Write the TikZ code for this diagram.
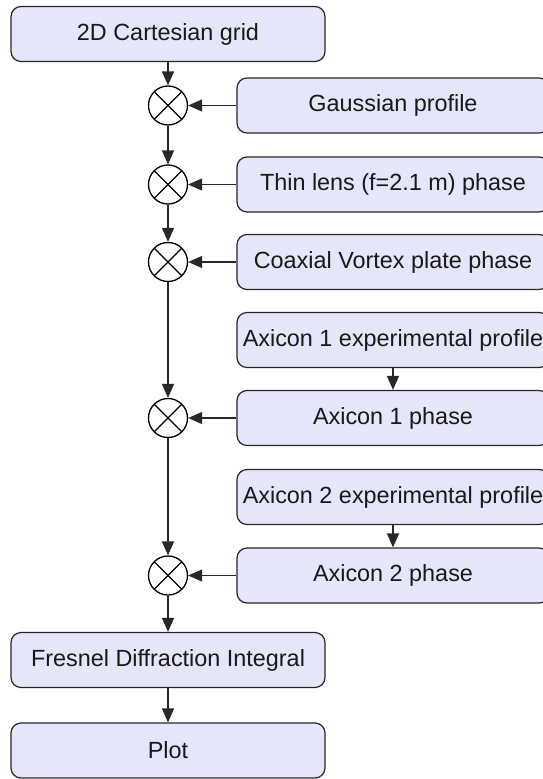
\documentclass[tikz,border=0pt]{standalone}
\usepackage{fontspec}
\setmainfont{Liberation Sans}
\usetikzlibrary{arrows.meta}
\definecolor{boxfill}{RGB}{230,230,250}
\definecolor{boxline}{RGB}{40,40,40}

\begin{document}
\begin{tikzpicture}[x=1pt, y=-1pt,
		block/.style={draw=boxline, line width=1.2pt, fill=boxfill, rounded corners=10pt,
			minimum width=314pt, minimum height=55pt, inner sep=0pt,
			text=black!90, font=\fontsize{23.4}{28}\selectfont},
		side/.style={block, minimum width=312pt},
		mult/.style={circle, draw=black, line width=1.3pt, minimum size=39pt, inner sep=0pt,
			path picture={\draw[line width=1.3pt] (path picture bounding box.north west) -- (path picture bounding box.south east)
				(path picture bounding box.north east) -- (path picture bounding box.south west);}},
		flow/.style={draw=boxline, line width=1.3pt, -{Triangle[length=14pt,width=12pt]}}]
		\useasboundingbox (0,0) rectangle (543,779);
		
		% Main chain
		\node[block] (grid) at (168,34) {2D Cartesian grid};
		\node[mult] (m1) at (168,105.5) {};
		\node[mult] (m2) at (168,184.5) {};
		\node[mult] (m3) at (168,262) {};
		\node[mult] (m4) at (168,418) {};
		\node[mult] (m5) at (168,575.5) {};
		\node[block] (fresnel) at (168,660) {Fresnel Diffraction Integral};
		\node[block] (plot) at (168,750.5) {Plot};
		
		% Phase and amplitude factors
		\node[side] (gauss) at (393,105.5) {Gaussian profile};
		\node[side] (lens) at (393,184.5) {Thin lens (f=2.1 m) phase};
		\node[side] (vortex) at (393,262) {Coaxial Vortex plate phase};
		\node[side] (axexpA) at (393,340) {Axicon 1 experimental profile};
		\node[side] (axA) at (393,418) {Axicon 1 phase};
		\node[side] (axexpB) at (393,497) {Axicon 2 experimental profile};
		\node[side] (axB) at (393,575.5) {Axicon 2 phase};
		
		% Connections
		\draw[flow] (grid) -- (m1);
		\draw[flow] (m1) -- (m2);
		\draw[flow] (m2) -- (m3);
		\draw[flow] (m3) -- (m4);
		\draw[flow] (m4) -- (m5);
		\draw[flow] (m5) -- (fresnel);
		\draw[flow] (fresnel) -- (plot);
		\draw[flow] (gauss) -- (m1);
		\draw[flow] (lens) -- (m2);
		\draw[flow] (vortex) -- (m3);
		\draw[flow] (axA) -- (m4);
		\draw[flow] (axB) -- (m5);
		\draw[flow] (axexpA) -- (axA);
		\draw[flow] (axexpB) -- (axB);
	\end{tikzpicture}
\end{document}
